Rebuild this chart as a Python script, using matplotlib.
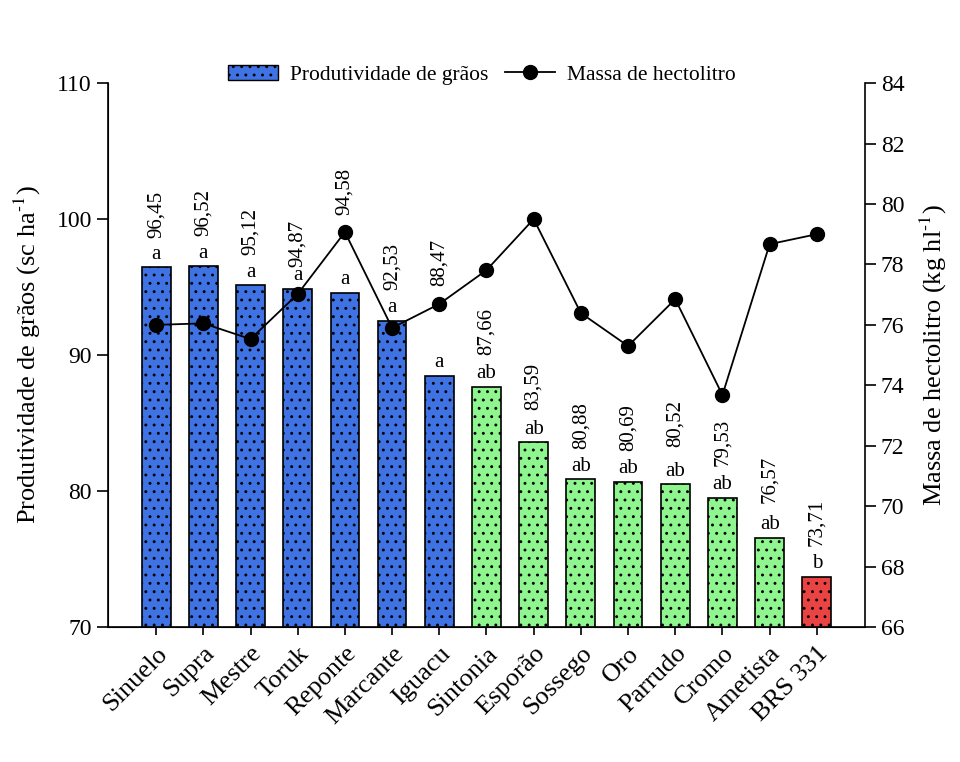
import numpy as np
import matplotlib
matplotlib.use("Agg")
import matplotlib.pyplot as plt
from matplotlib.lines import Line2D
from matplotlib.patches import Patch

plt.rcParams['font.family'] = ['Liberation Serif', 'DejaVu Serif']
plt.rcParams['mathtext.fontset'] = 'stix'
plt.rcParams['hatch.linewidth'] = 0.9

cultivares = ['Sinuelo', 'Supra', 'Mestre', 'Toruk', 'Reponte', 'Marcante', 'Iguacu',
              'Sintonia', 'Esporão', 'Sossego', 'Oro', 'Parrudo', 'Cromo', 'Ametista', 'BRS 331']
produtividade = [96.45, 96.52, 95.12, 94.87, 94.58, 92.53, 88.47,
                 87.66, 83.59, 80.88, 80.69, 80.52, 79.53, 76.57, 73.71]
letras = ['a', 'a', 'a', 'a', 'a', 'a', 'a',
          'ab', 'ab', 'ab', 'ab', 'ab', 'ab', 'ab', 'b']
grupo = ['a'] * 7 + ['ab'] * 7 + ['b']
hectolitro = [76.0, 76.05, 75.53, 77.02, 79.07, 75.9, 76.69,
              77.81, 79.5, 76.39, 75.3, 76.85, 73.68, 78.67, 79.0]

cores = {'a': '#3f72e3', 'ab': '#8ff58f', 'b': '#ea4343'}
# deslocamento (pt) do valor acima da barra, ajustado a mao para fugir da linha
desloc_valor = [21, 22, 22, 16, 56, 22, 65, 23, 23, 22, 22, 27, 23, 25, 22]

fig = plt.figure(figsize=(9.6, 7.62), dpi=100)
ax = fig.add_axes([0.1125, 0.177, 0.7885, 0.714])
x = np.arange(len(cultivares))

bars = ax.bar(x, produtividade, width=0.61, bottom=0,
              color=[cores[g] for g in grupo], edgecolor='black', linewidth=1.2,
              hatch='..', zorder=2)

ax.set_ylim(70, 110)
ax.set_xlim(-1.02, 15.02)
ax.set_yticks([70, 80, 90, 100, 110])
ax.set_xticks(x)
ax.set_xticklabels(cultivares, rotation=45, ha='right', rotation_mode='anchor', fontsize=19)
ax.tick_params(axis='y', labelsize=17, direction='out', length=8, width=1.2)
ax.tick_params(axis='x', direction='out', length=6, width=1.2, pad=5)
ax.spines['top'].set_visible(False)
ax.spines['right'].set_visible(False)
for s in ['left', 'bottom']:
    ax.spines[s].set_linewidth(1.2)
ax.set_ylabel('Produtividade de grãos (sc ha$^{\\text{-1}}$)', fontsize=19, labelpad=10)

# letra de significancia e valor rotacionado acima de cada barra
for xi, v, l, d in zip(x, produtividade, letras, desloc_valor):
    ax.annotate(l, (xi, v), xytext=(0, 2.5), textcoords='offset points',
                ha='center', va='bottom', fontsize=15)
    ax.annotate(f'{v:.2f}'.replace('.', ','), (xi, v), xytext=(0, d), textcoords='offset points',
                ha='center', va='bottom', fontsize=15, rotation=90)

ax2 = ax.twinx()
ax2.plot(x, hectolitro, color='black', linewidth=1.3, marker='o', markersize=10, zorder=3)
ax2.set_ylim(66, 84)
ax2.set_yticks(np.arange(66, 85, 2))
ax2.tick_params(axis='y', labelsize=17, direction='out', length=8, width=1.2)
ax2.spines['top'].set_visible(False)
ax2.spines['right'].set_linewidth(1.2)
ax2.set_ylabel('Massa de hectolitro (kg hl$^{\\text{-1}}$)', fontsize=19, labelpad=10)

handles = [Patch(facecolor=cores['a'], edgecolor='black', hatch='..'),
           Line2D([0], [0], color='black', marker='o', markersize=10, linewidth=1.3)]
fig.legend(handles, ['Produtividade de grãos', 'Massa de hectolitro'], loc='center',
           bbox_to_anchor=(0.502, 0.902), ncol=2, frameon=False, fontsize=15.5,
           handlelength=2.3, columnspacing=0.8, handletextpad=0.55)

fig.savefig('out.png', dpi=100)
